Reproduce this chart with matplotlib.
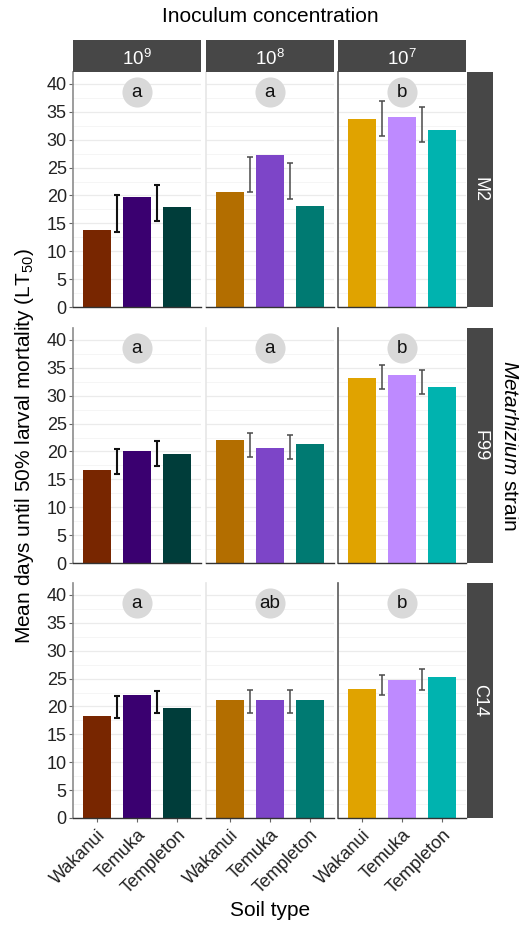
import matplotlib
matplotlib.use("Agg")
import matplotlib.pyplot as plt
import numpy as np

plt.rcParams['font.family'] = ['Liberation Sans', 'DejaVu Sans']
plt.rcParams['mathtext.fontset'] = 'custom'
plt.rcParams['mathtext.rm'] = 'Liberation Sans'
plt.rcParams['mathtext.it'] = 'Liberation Sans:italic'

# ---- data -------------------------------------------------------------
soils = ["Wakanui", "Temuka", "Templeton"]
concentrations = ["$10^9$", "$10^8$", "$10^7$"]
strains = ["M2", "F99", "C14"]

# mean LT50 per strain (row) / concentration (column) / soil
lt50_m2 = [[13.9, 19.8, 17.9], [20.6, 27.3, 18.2], [33.8, 34.0, 31.7]]
lt50_f99 = [[16.7, 20.0, 19.5], [22.0, 20.6, 21.4], [33.2, 33.8, 31.5]]
lt50_c14 = [[18.3, 22.0, 19.7], [21.1, 21.1, 21.1], [23.1, 24.8, 25.3]]

# interval bounds (lower, upper), two intervals per panel
err_low_m2 = [[13.5, 15.5], [20.6, 19.4], [30.6, 29.6]]
err_high_m2 = [[20.0, 21.9], [26.9, 25.8], [36.9, 35.9]]
err_low_f99 = [[16.05, 17.4], [19.0, 18.7], [31.2, 30.4]]
err_high_f99 = [[20.4, 21.8], [23.3, 23.0], [35.6, 34.6]]
err_low_c14 = [[18.0, 18.75], [18.9, 18.9], [22.0, 22.9]]
err_high_c14 = [[21.9, 22.7], [22.9, 22.9], [25.7, 26.8]]

letters = [["a", "a", "b"], ["a", "a", "b"], ["a", "ab", "b"]]

colors = [["#782600", "#3A0070", "#003D3A"],
          ["#B36E00", "#7D45C8", "#007A72"],
          ["#E0A300", "#BE8AFF", "#00B3AF"]]

values = [lt50_m2, lt50_f99, lt50_c14]
err_low = [err_low_m2, err_low_f99, err_low_c14]
err_high = [err_high_m2, err_high_f99, err_high_c14]

# ---- layout (pixels) --------------------------------------------------
W, H = 519, 926
fig = plt.figure(figsize=(W / 100, H / 100), dpi=100)

col_left = [73, 205.5, 338]
col_w = 128
row_top = [72, 328, 583]
row_h = 235
strip_h = 32
rstrip_x, rstrip_w = 467, 26
strip_col = "#474747"


def px_axes(x, y, w, h):
    return fig.add_axes([x / W, 1 - (y + h) / H, w / W, h / H])


left_spine = ["#8C8C8C", "#E6E6E6", "#5A5A5A"]
err_col = ["#111111", "#4A4A4A", "#4A4A4A"]
err_lw = [1.5, 1.1, 1.1]
x = np.arange(1, 4)

for r in range(3):
    for c in range(3):
        ax = px_axes(col_left[c], row_top[r], col_w, row_h)
        ax.set_xlim(0.4, 3.6)
        ax.set_ylim(0, 42.15)
        ax.set_yticks(np.arange(0, 41, 5))
        ax.set_yticks(np.arange(2.5, 41, 5), minor=True)
        ax.grid(axis='y', which='major', color="#EBEBEB", lw=0.9, zorder=0)
        ax.grid(axis='y', which='minor', color="#F4F4F4", lw=0.6, zorder=0)
        ax.set_axisbelow(True)

        ax.bar(x, values[r][c], width=0.7, color=colors[c], zorder=2)

        lo = np.array(err_low[r][c])
        hi = np.array(err_high[r][c])
        mid = (lo + hi) / 2
        ax.errorbar([1.5, 2.5], mid, yerr=[mid - lo, hi - mid], fmt='none',
                    ecolor=err_col[c], elinewidth=err_lw[c], capsize=2.2,
                    capthick=err_lw[c], zorder=3)

        ax.scatter([2], [38.6], s=470, color="#D9D9D9", zorder=4, lw=0)
        ax.text(2, 38.5, letters[r][c], ha='center', va='center',
                fontsize=13.5, color="#111111", zorder=5)

        for s in ['top', 'right']:
            ax.spines[s].set_visible(False)
        ax.spines['bottom'].set_color("#333333")
        ax.spines['bottom'].set_linewidth(1.0)
        ax.spines['left'].set_color(left_spine[c])
        ax.spines['left'].set_linewidth(1.2)

        ax.tick_params(axis='y', which='minor', length=0)
        if c == 0:
            ax.tick_params(axis='y', which='major', length=3, color="#666666",
                           labelsize=13, labelcolor="#222222", pad=1.5)
        else:
            ax.tick_params(axis='y', which='major', length=0, labelleft=False)

        ax.set_xticks(x)
        if r == 2:
            ax.set_xticklabels(soils, rotation=45, ha='right', va='top',
                               rotation_mode='anchor', fontsize=13,
                               color="#222222")
            ax.tick_params(axis='x', length=3, color="#666666", pad=3)
        else:
            ax.tick_params(axis='x', length=0, labelbottom=False)

    # strain strip on the right
    sax = px_axes(rstrip_x, row_top[r], rstrip_w, row_h)
    sax.set_facecolor(strip_col)
    sax.set_xticks([]); sax.set_yticks([])
    for s in sax.spines.values():
        s.set_visible(False)
    sax.text(0.5, 0.5, strains[r], rotation=270, ha='center', va='center',
             color='white', fontsize=13, transform=sax.transAxes)

# concentration strips on top
for c in range(3):
    tax = px_axes(col_left[c], row_top[0] - strip_h, col_w, strip_h)
    tax.set_facecolor(strip_col)
    tax.set_xticks([]); tax.set_yticks([])
    for s in tax.spines.values():
        s.set_visible(False)
    tax.text(0.5, 0.42, concentrations[c], ha='center', va='center',
             color='white', fontsize=13.5, transform=tax.transAxes)

# titles
fig.text(270 / W, 1 - 17 / H, "Inoculum concentration", ha='center',
         va='center', fontsize=15)
fig.text(270 / W, 1 - 910 / H, "Soil type", ha='center', va='center',
         fontsize=15)
fig.text(25 / W, 1 - 446 / H,
         "Mean days until 50% larval mortality (LT$_{50}$)",
         rotation=90, ha='center', va='center', fontsize=15)
fig.text(509 / W, 1 - 446 / H, "$\\it{Metarhizium}$ strain", rotation=270,
         ha='center', va='center', fontsize=15)

fig.savefig("out.png", dpi=100)
